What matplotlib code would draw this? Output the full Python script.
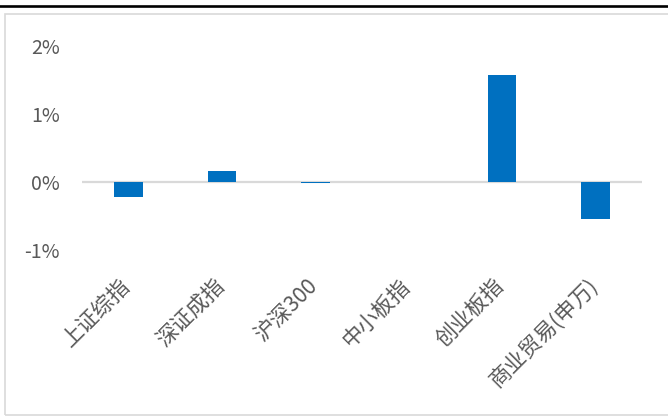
import matplotlib
matplotlib.use("Agg")
import matplotlib.pyplot as plt
from matplotlib.patches import Rectangle
from matplotlib.lines import Line2D
from matplotlib.ticker import FuncFormatter
from matplotlib.transforms import ScaledTranslation

plt.rcParams['font.family'] = ['Noto Sans CJK SC', 'DejaVu Sans']

# Daily change of major indices vs. the commerce & trade sector
categories = ["上证综指", "深证成指", "沪深300", "中小板指", "创业板指", "商业贸易(申万)"]
changes = [-0.0022, 0.0016, -0.0002, 0.0, 0.0158, -0.0054]
y_ticks = [-0.01, 0.0, 0.01, 0.02]

W, H = 668, 419
fig = plt.figure(figsize=(W / 100, H / 100), dpi=100)

# outer chart frame and the heavy rule above it
fig.patches.append(Rectangle((5 / W, 1 - 415 / H), 1.0, (415 - 14) / H,
                             transform=fig.transFigure, fill=False,
                             edgecolor="#d9d9d9", linewidth=1.2, zorder=0))
fig.lines.append(Line2D([0, 1], [1 - 6.5 / H, 1 - 6.5 / H],
                        transform=fig.transFigure, color="black", linewidth=1.9))

ax = fig.add_axes([82 / W, 1 - 250 / H, 560 / W, 204 / H])
x = range(len(categories))
ax.bar(x, changes, width=0.31, color="#0070C0", zorder=2)
ax.axhline(0, color="#d9d9d9", linewidth=1.6, zorder=1)

ax.set_xlim(-0.5, len(categories) - 0.5)
ax.set_ylim(-0.01, 0.02)
ax.set_yticks(y_ticks)
ax.yaxis.set_major_formatter(FuncFormatter(lambda v, _: f"{v * 100:.0f}%"))
ax.set_xticks(list(x))
ax.set_xticklabels(categories, rotation=45, ha="right", rotation_mode="anchor",
                   fontweight="light")

ax.tick_params(axis="y", length=0, pad=16, labelsize=14, labelcolor="#595959")
ax.tick_params(axis="x", length=0, pad=14, labelsize=15.5, labelcolor="#595959")
shift = ScaledTranslation(-9 / 100, -5 / 100, fig.dpi_scale_trans)
for lab in ax.get_xticklabels():
    lab.set_transform(lab.get_transform() + shift)
for s in ax.spines.values():
    s.set_visible(False)
ax.set_facecolor("none")

fig.savefig("out.png", dpi=100)
